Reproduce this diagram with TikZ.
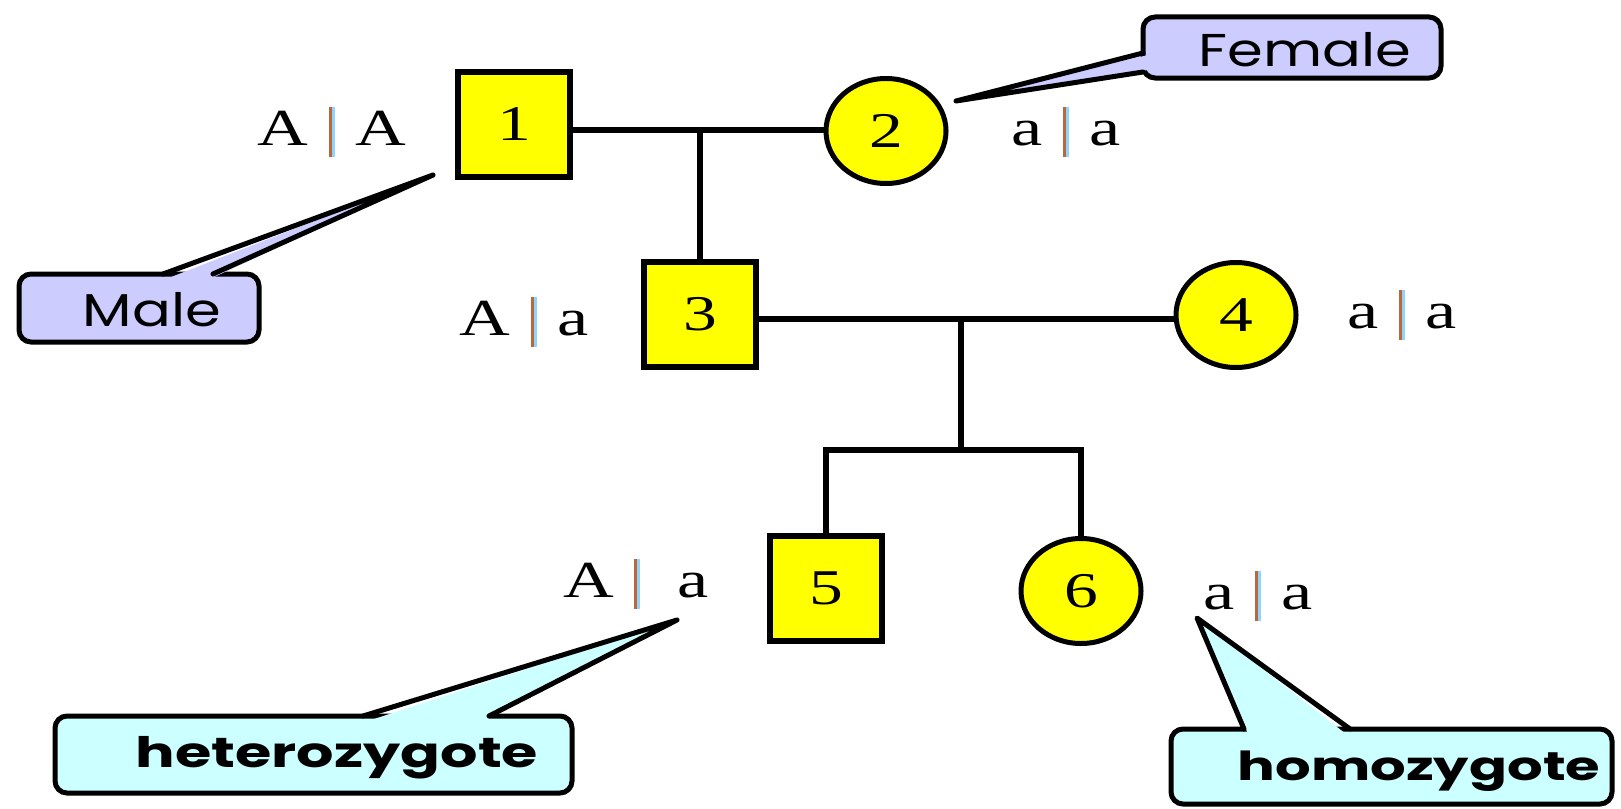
\documentclass[tikz,border=0pt]{standalone}
\usepackage{fontspec}
\usetikzlibrary{shapes.geometric}
\setmainfont{Liberation Serif}
\newfontfamily\genofont[FakeStretch=1.35]{Liberation Serif}
\newfontfamily\comicA[FakeStretch=1.25]{Poppins}
\newfontfamily\comicB[FakeStretch=1.4]{Poppins}
\definecolor{pedyellow}{HTML}{FFFF00}
\definecolor{lav}{HTML}{CCCCFF}
\definecolor{lcyan}{HTML}{CCFFFF}
\definecolor{barbrown}{HTML}{B8683C}
\definecolor{barblue}{HTML}{8FD3FF}
\newcommand\gbar{\raisebox{-12pt}{\textcolor{barbrown}{\rule{3pt}{50pt}}\textcolor{barblue}{\rule{2.5pt}{50pt}}}}
\newcommand\genotxt[4]{#1\hspace{#3}\gbar\hspace{#4}#2}
\tikzset{
  malesym/.style={draw, line width=6pt, fill=pedyellow, minimum width=112pt, minimum height=105pt, inner sep=0pt, font=\genofont\fontsize{50}{54}\selectfont},
  femalesym/.style={ellipse, draw, line width=5pt, fill=pedyellow, minimum width=120pt, minimum height=105pt, inner sep=0pt, font=\genofont\fontsize{50}{54}\selectfont},
  geno/.style={inner sep=0pt, anchor=base, font=\genofont\fontsize{52}{56}\selectfont},
  ped/.style={line width=6pt},
  callbox/.style={draw, line width=5pt, rounded corners=12pt, inner sep=0pt},
  callline/.style={line width=5pt, line join=round, line cap=round},
  calltxt/.style={inner sep=0pt, font=\comicA\fontsize{46}{50}\selectfont},
  calltxtb/.style={inner sep=0pt, anchor=base, font=\comicB\bfseries\fontsize{42}{46}\selectfont},
}
\begin{document}
\begin{tikzpicture}[x=1pt, y=-1pt]
\useasboundingbox (0,0) rectangle (1621,808);
\fill[white] (0,0) rectangle (1621,808);

% pedigree symbols
\node[malesym] (n1) at (514,124) {1};
\node[femalesym] (n2) at (886,131) {2};
\node[malesym] (n3) at (700,314) {3};
\node[femalesym] (n4) at (1236,315) {4};
\node[malesym] (n5) at (826,588) {5};
\node[femalesym] (n6) at (1081,591) {6};

% junctions
\coordinate (m12) at (700,130);
\coordinate (m34) at (961,319);
\coordinate (sib) at (961,450);

\draw[ped] (n1.east |- m12) -- (n2.west |- m12);
\draw[ped] (m12) -- (n3.north);
\draw[ped] (n3.east |- m34) -- (n4.west |- m34);
\draw[ped] (m34) -- (sib);
\draw[ped] (n5.north) |- (sib) -| (n6.north);

% genotypes
\node[geno] (g1) at (332,145) {\genotxt{A}{A}{21pt}{21pt}};
\node[geno] (g2) at (1066,145) {\genotxt{a}{a}{21pt}{21pt}};
\node[geno] (g3) at (524,335) {\genotxt{A}{a}{21pt}{21pt}};
\node[geno] (g4) at (1402,328) {\genotxt{a}{a}{21pt}{21pt}};
\node[geno] (g5) at (636,597) {\genotxt{A}{a}{20pt}{38pt}};
\node[geno] (g6) at (1258,609) {\genotxt{a}{a}{21pt}{21pt}};

% Male callout
\node[callbox, fill=lav, minimum width=240pt, minimum height=68pt] (malebox) at (139,308) {};
\coordinate (maletip) at (433,175);
\coordinate (maleb1) at (163,274);
\coordinate (maleb2) at (213,274);
\fill[lav] (166,279) -- (maletip) -- (210,279) -- cycle;
\draw[callline] (maleb1) -- (maletip) -- (maleb2);
\node[calltxt] (maletxt) at (152,310) {Male};

% Female callout
\node[callbox, fill=lav, minimum width=298pt, minimum height=61pt] (fembox) at (1292,47.5) {};
\coordinate (femtip) at (956,101);
\coordinate (femb1) at (1143,53);
\coordinate (femb2) at (1143,72);
\fill[lav] (1148,55) -- (femtip) -- (1148,70) -- cycle;
\draw[callline] (femb1) -- (femtip) -- (femb2);
\node[calltxt] (femtxt) at (1305,50) {Female};

% heterozygote callout
\node[callbox, fill=lcyan, minimum width=517pt, minimum height=77pt] (hetbox) at (313.5,754.5) {};
\coordinate (hettip) at (677,620);
\coordinate (hetb1) at (363,716);
\coordinate (hetb2) at (489,716);
\fill[lcyan] (368,721) -- (hettip) -- (484,721) -- cycle;
\draw[callline] (hetb1) -- (hettip) -- (hetb2);
\node[calltxtb] (hettxt) at (337,767) {heterozygote};

% homozygote callout
\node[callbox, fill=lcyan, minimum width=441pt, minimum height=75pt] (hombox) at (1391.5,766.5) {};
\coordinate (homtip) at (1197,618);
\coordinate (homb1) at (1244,729);
\coordinate (homb2) at (1350,729);
\fill[lcyan] (1248,734) -- (homtip) -- (1346,734) -- cycle;
\draw[callline] (homb1) -- (homtip) -- (homb2);
\node[calltxtb, font=\comicB\bfseries\fontsize{40}{44}\selectfont] (homtxt) at (1419,780) {homozygote};
\end{tikzpicture}
\end{document}
